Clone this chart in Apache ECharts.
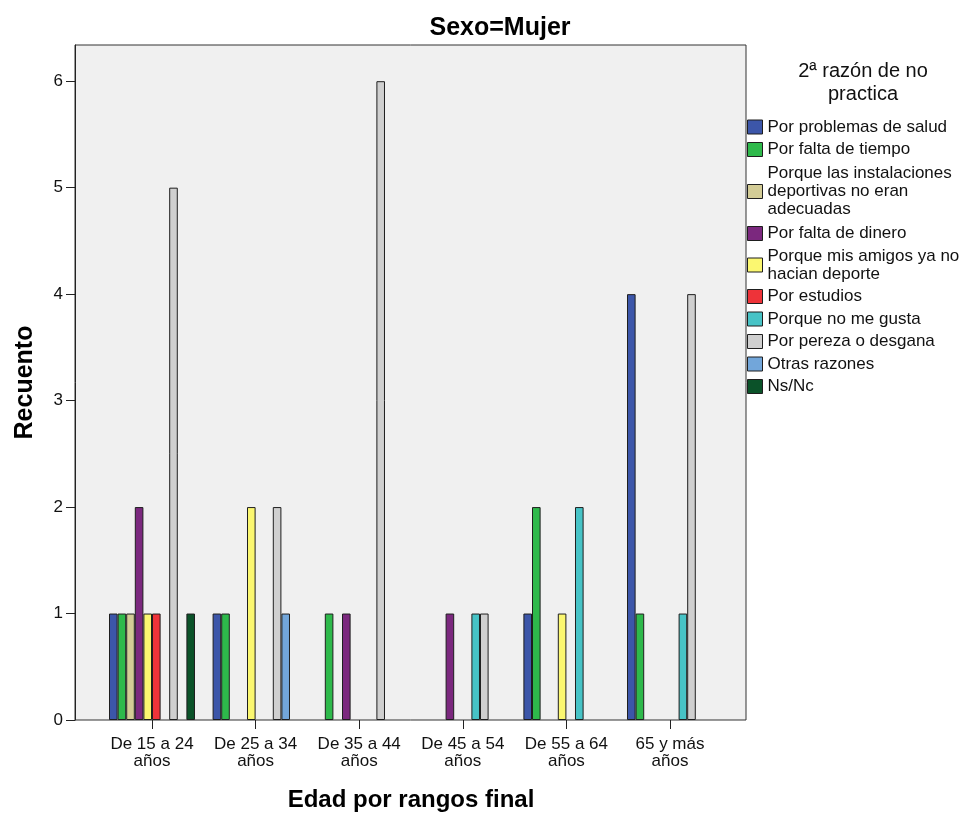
<!DOCTYPE html>
<html>
<head>
<meta charset="utf-8">
<script src="https://cdn.jsdelivr.net/npm/echarts@6/dist/echarts.min.js"></script>
<style>
html,body{margin:0;padding:0;background:#fff;}
#chart{width:976px;height:818px;}
</style>
</head>
<body>
<div id="chart"></div>
<script>
// ---- Data ----
const categories = ['De 15 a 24\naños', 'De 25 a 34\naños', 'De 35 a 44\naños', 'De 45 a 54\naños', 'De 55 a 64\naños', '65 y más\naños'];
const seriesNames = [
  'Por problemas de salud',
  'Por falta de tiempo',
  'Porque las instalaciones deportivas no eran adecuadas',
  'Por falta de dinero',
  'Porque mis amigos ya no hacian deporte',
  'Por estudios',
  'Porque no me gusta',
  'Por pereza o desgana',
  'Otras razones',
  'Ns/Nc'
];
const legendLabels = [
  'Por problemas de salud',
  'Por falta de tiempo',
  'Porque las instalaciones\ndeportivas no eran\nadecuadas',
  'Por falta de dinero',
  'Porque mis amigos ya no\nhacian deporte',
  'Por estudios',
  'Porque no me gusta',
  'Por pereza o desgana',
  'Otras razones',
  'Ns/Nc'
];
const porSalud        = [1, 1, 0, 0, 1, 4];
const porTiempo       = [1, 1, 1, 0, 2, 1];
const porInstalaciones= [1, 0, 0, 0, 0, 0];
const porDinero       = [2, 0, 1, 1, 0, 0];
const porAmigos       = [1, 2, 0, 0, 1, 0];
const porEstudios     = [1, 0, 0, 0, 0, 0];
const noMeGusta       = [0, 0, 0, 1, 2, 1];
const porPereza       = [5, 2, 6, 1, 0, 4];
const otrasRazones    = [0, 1, 0, 0, 0, 0];
const nsNc            = [1, 0, 0, 0, 0, 0];
const yTicks = [0, 1, 2, 3, 4, 5, 6];

const seriesValues = [porSalud, porTiempo, porInstalaciones, porDinero, porAmigos, porEstudios, noMeGusta, porPereza, otrasRazones, nsNc];
const colors = ['#3c56a9', '#2eb94b', '#d3cc96', '#7b287e', '#fbf770', '#ee3339', '#47c3c6', '#cfcfcf', '#72a6da', '#0b5229'];

const FONT = '"Liberation Sans", Arial, sans-serif';
const chart = echarts.init(document.getElementById('chart'), null, {renderer: 'canvas'});

const series = seriesNames.map((name, i) => ({
  name: name,
  type: 'bar',
  xAxisIndex: 1,
  yAxisIndex: 1,
  barGap: '0%',
  barCategoryGap: '17%',
  itemStyle: {color: colors[i], borderColor: '#1e1e1e', borderWidth: 1},
  emphasis: {disabled: true},
  data: seriesValues[i].map(v => (v === 0 ? '-' : v))
}));

chart.setOption({
  animation: false,
  backgroundColor: '#ffffff',
  color: colors,
  title: [
    {text: 'Sexo=Mujer', left: 495, top: 11, textAlign: 'center',
     textStyle: {fontFamily: FONT, fontSize: 25, fontWeight: 'bold', color: '#000'}},
    {text: '2ª razón de no\npractica', left: 858, top: 55, textAlign: 'center',
     textStyle: {fontFamily: FONT, fontSize: 20, fontWeight: 'normal', color: '#111', lineHeight: 23}}
  ],
  legend: {
    orient: 'vertical',
    left: 747,
    top: 118,
    padding: 0,
    itemWidth: 15,
    itemHeight: 14,
    itemGap: 4.5,
    selectedMode: false,
    data: seriesNames.map((n, i) => {
      const item = {name: n, icon: 'rect'};
      if (i === 2) item.textStyle = {padding: [0, 0, 3, 0]};
      return item;
    }),
    itemStyle: {borderColor: '#1e1e1e', borderWidth: 1},
    formatter: function (name) { return legendLabels[seriesNames.indexOf(name)]; },
    textStyle: {fontFamily: FONT, fontSize: 17, lineHeight: 18, color: '#111'}
  },
  grid: [
    {left: 75, top: 45, width: 671, height: 675, show: true, backgroundColor: '#f0f0f0', borderColor: '#333', borderWidth: 1},
    {left: 100.2, top: 45, width: 621.6, height: 675}
  ],
  xAxis: [
    {type: 'category', gridIndex: 0, data: categories, show: false},
    {type: 'category', gridIndex: 1, data: categories,
     axisLine: {show: false},
     axisTick: {show: true, alignWithLabel: true, length: 9, lineStyle: {color: '#222'}},
     axisLabel: {fontFamily: FONT, fontSize: 17, lineHeight: 17, color: '#111', margin: 16, interval: 0},
     name: 'Edad por rangos final', nameLocation: 'middle', nameGap: 68,
     nameTextStyle: {fontFamily: FONT, fontSize: 24, fontWeight: 'bold', color: '#000'}}
  ],
  yAxis: [
    {type: 'value', gridIndex: 0, min: 0, max: 6.34, interval: 1,
     axisLine: {show: true, lineStyle: {color: '#222'}},
     axisTick: {show: true, length: 9, customValues: yTicks, lineStyle: {color: '#222'}},
     axisLabel: {fontFamily: FONT, fontSize: 17, color: '#111', margin: 12, customValues: yTicks},
     splitLine: {show: false},
     name: 'Recuento', nameLocation: 'middle', nameGap: 37,
     nameTextStyle: {fontFamily: FONT, fontSize: 25, fontWeight: 'bold', color: '#000'}},
    {type: 'value', gridIndex: 1, min: 0, max: 6.34, show: false}
  ],
  series: series
});
</script>
</body>
</html>
